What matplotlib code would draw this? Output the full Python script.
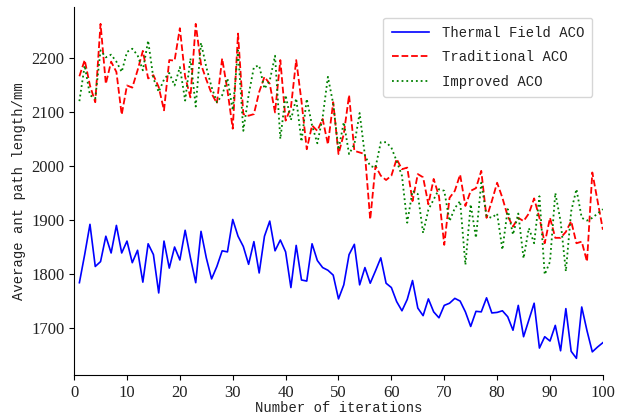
import matplotlib
matplotlib.use("Agg")
import matplotlib.pyplot as plt
import numpy as np

iterations = list(range(1, 101))

thermal_aco = [1784, 1836, 1892, 1814, 1823, 1870, 1839, 1890, 1839, 1861,
               1821, 1844, 1785, 1856, 1836, 1765, 1861, 1811, 1850, 1826,
               1881, 1830, 1784, 1879, 1830, 1791, 1814, 1843, 1841, 1901,
               1870, 1851, 1818, 1860, 1802, 1870, 1898, 1843, 1863, 1841,
               1775, 1853, 1789, 1787, 1856, 1825, 1812, 1807, 1798, 1754,
               1780, 1836, 1855, 1780, 1812, 1783, 1806, 1830, 1783, 1775,
               1749, 1732, 1753, 1788, 1737, 1723, 1754, 1730, 1719, 1742,
               1746, 1755, 1750, 1730, 1703, 1731, 1730, 1756, 1728, 1729,
               1732, 1721, 1696, 1742, 1684, 1715, 1746, 1663, 1684, 1676,
               1705, 1658, 1736, 1657, 1644, 1739, 1695, 1656, 1665, 1673]

traditional_aco = [2166, 2196, 2149, 2118, 2263, 2152, 2193, 2174, 2095, 2149,
                   2145, 2177, 2213, 2162, 2168, 2146, 2103, 2196, 2195, 2255,
                   2165, 2127, 2263, 2188, 2160, 2134, 2116, 2199, 2140, 2069,
                   2245, 2096, 2093, 2096, 2137, 2165, 2152, 2099, 2196, 2084,
                   2108, 2196, 2120, 2031, 2075, 2065, 2087, 2040, 2118, 2022,
                   2059, 2131, 2028, 2025, 2022, 1901, 2000, 1982, 1974, 1982,
                   2013, 1994, 1997, 1935, 1985, 1979, 1929, 1976, 1944, 1854,
                   1941, 1954, 1984, 1926, 1954, 1959, 1991, 1904, 1935, 1969,
                   1941, 1907, 1888, 1904, 1898, 1912, 1940, 1904, 1857, 1904,
                   1867, 1867, 1878, 1898, 1857, 1860, 1823, 1988, 1935, 1882]

improved_aco = [2120, 2186, 2131, 2125, 2214, 2201, 2206, 2193, 2174, 2211,
                2217, 2205, 2177, 2232, 2162, 2137, 2160, 2172, 2149, 2183,
                2121, 2199, 2110, 2228, 2183, 2146, 2118, 2131, 2162, 2103,
                2214, 2065, 2131, 2183, 2186, 2143, 2158, 2204, 2050, 2131,
                2085, 2125, 2045, 2124, 2075, 2042, 2090, 2165, 2115, 2030,
                2081, 2022, 2040, 2098, 2019, 2000, 1997, 2044, 2044, 2034,
                2009, 1982, 1895, 1954, 1948, 1876, 1919, 1938, 1957, 1954,
                1898, 1922, 1935, 1817, 1929, 1867, 1969, 1907, 1904, 1912,
                1845, 1920, 1873, 1912, 1829, 1885, 1857, 1944, 1799, 1823,
                1950, 1898, 1805, 1916, 1957, 1904, 1899, 1904, 1912, 1920]

labels = ["Thermal Field ACO", "Traditional ACO", "Improved ACO"]
x_ticks = [0, 10, 20, 30, 40, 50, 60, 70, 80, 90, 100]
y_ticks = [1700, 1800, 1900, 2000, 2100, 2200]

mono = "Liberation Mono"
serif = "Liberation Serif"

fig = plt.figure(figsize=(6.28, 4.2), dpi=100)
ax = fig.add_axes([0.118, 0.107, 0.842, 0.876])

ax.plot(iterations, thermal_aco, color="blue", linestyle="-", linewidth=1.2, label=labels[0])
ax.plot(iterations, traditional_aco, color="red", linestyle="--", linewidth=1.3, label=labels[1])
ax.plot(iterations, improved_aco, color="green", linestyle=":", linewidth=1.3, label=labels[2])

ax.set_xlim(0, 100)
ax.set_xticks(x_ticks)
ax.set_yticks(y_ticks)
for lab in ax.get_xticklabels() + ax.get_yticklabels():
    lab.set_fontfamily(serif)
    lab.set_fontsize(12)
    lab.set_color("#222222")

ax.spines["top"].set_visible(False)
ax.spines["right"].set_visible(False)

ax.set_xlabel("Number of iterations", fontfamily=mono, fontsize=10, labelpad=0, color="#222222")
ax.set_ylabel("Average ant path length/mm", fontfamily=mono, fontsize=10, labelpad=4, color="#222222")

leg = ax.legend(loc="upper right", prop={"family": mono, "size": 10},
                bbox_to_anchor=(1.0, 1.0), borderaxespad=0.75,
                labelspacing=0.75, borderpad=0.6, handlelength=2.7,
                handletextpad=0.9)
for t in leg.get_texts():
    t.set_color("#222222")

fig.savefig("out.png", dpi=100)
